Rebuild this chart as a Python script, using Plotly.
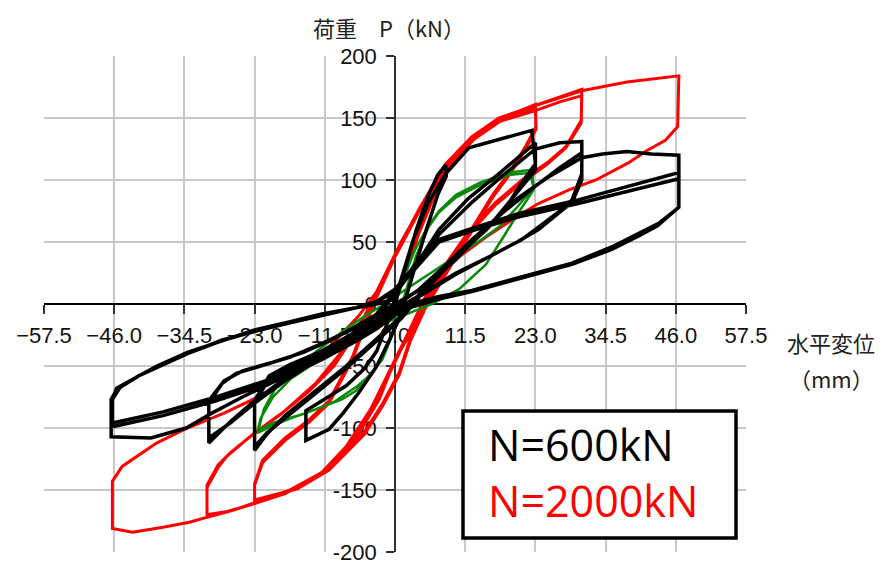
import plotly.graph_objects as go

# ---- N = 2000 kN : horizontal displacement (mm) / load (kN), cycle by cycle ----
red_c1_x = [0, 2, 4, 6.5, 9, 12.6, 17, 20, 23, 23.1, 21.5, 19, 16, 12, 8, 5, 2.5, 0.7, -2, -5, -10.8, -16, -23,
            -23, -21.7, -18, -14, -10.8, -7, -3.5, 0, 4, 8.3, 12.6, 17, 23]
red_c1_y = [0, 30, 58, 88, 110, 133, 148, 155, 161, 143, 128, 108, 88, 56, 25, 0, -28, -55, -80, -103, -132, -148, -160,
            -146, -128, -110, -95, -80, -45, 0, 38, 75, 112, 134, 149, 158]
red_c2_x = [23.1, 21.5, 19, 16, 12, 8, 5, 2.5, 0.7, -2, -5, -10.8, -16, -23,
            -23, -21.7, -18, -14, -10.8, -7, -3.5, 0, 4, 8.3, 12.6, 17, 23, 27, 30.6]
red_c2_y = [141, 126, 106, 86, 54, 22, -3, -30, -57, -82, -105, -134, -149, -158,
            -145, -126, -108, -93, -78, -43, 2, 40, 77, 113, 135, 150, 160, 167, 173]
red_c3_x = [30.5, 28, 25.2, 20.8, 16.5, 12, 8, 5, 2, -1, -4, -8, -12, -18, -23, -27, -30.8,
            -30.8, -29, -27.6, -24, -19, -14, -10, -6, -3, 0, 4, 8.3, 12.6, 17, 23, 27, 30.6]
red_c3_y = [148, 127, 115, 100, 82, 58, 30, 6, -25, -55, -85, -115, -136, -152, -160, -167, -172,
            -148, -132, -123, -108, -90, -70, -50, -20, 10, 40, 75, 110, 132, 147, 156, 163, 168]
red_c4_x = [30.5, 28, 25, 20.8, 16.5, 12, 8, 5, 2, -1, -4, -8, -12, -18, -23, -27, -30.8,
            -30.8, -29, -27, -23, -18, -13, -9, -5, -2, 1, 5, 9, 13, 18, 23, 30.6, 38, 46.5]
red_c4_y = [146, 126, 113, 98, 80, 56, 28, 4, -27, -57, -87, -116, -137, -153, -161, -167, -170,
            -146, -130, -120, -104, -86, -64, -40, -10, 20, 50, 85, 112, 133, 150, 160, 172, 179, 184]
red_c5_x = [46.3, 44.3, 41, 38.3, 32.9, 28.5, 23.5, 19.8, 14.9, 10.5, 7.7, 5, 2, 0, -2.6, -6, -10.8, -16, -23, -28,
            -33.7, -38, -43, -46.3, -46.3, -44.7, -42, -39, -34, -28, -22, -16, -11, -6, -3]
red_c5_y = [143, 132, 123, 114, 100, 92, 81, 70, 54, 38, 25, 0, -28, -45, -77, -105, -132, -148, -161, -168,
            -176, -180, -184, -181, -143, -131, -122, -112, -100, -88, -74, -56, -36, -10, 10]

# ---- N = 600 kN ----
blk_c1_x = [0, 1.5, 3.5, 5.5, 7, 8.3, 8.4, 7, 5, 3, 1, -1, -3.1, -6, -8.5, -10.8, -14.6,
            -14.6, -12, -8, -5, -3, -1, 1, 3, 5.5, 8.3, 12.1, 15, 18, 22.4]
blk_c1_y = [0, 25, 60, 88, 104, 112, 103, 88, 58, 25, -8, -30, -51, -72, -88, -101, -110,
            -86, -78, -66, -52, -38, -12, 20, 52, 82, 105, 126, 130, 134, 140]
blk_c2_x = [23, 20.8, 18.2, 15.4, 10.5, 7, 4, 1, -3, -8, -13, -18, -21, -23,
            -23, -20.6, -17.3, -12, -7, -3, 0, 3, 7.2, 12, 17, 22, 23]
blk_c2_y = [113, 98, 78, 62, 42, 25, 8, -10, -28, -50, -70, -90, -105, -118,
            -80, -60, -51, -40, -26, -10, 8, 28, 60, 85, 105, 126, 130]
blk_c3_x = [23, 21, 18, 15, 10.5, 7, 4, 1, -3, -8, -13, -18, -21, -23,
            -23, -20.6, -17.3, -12, -7, -3, 0, 3, 7.2, 12.6, 18, 23, 27, 30.6]
blk_c3_y = [108, 96, 78, 60, 40, 22, 6, -12, -30, -52, -72, -92, -104, -115,
            -78, -58, -49, -38, -24, -8, 10, 30, 56, 82, 105, 125, 130, 131]
blk_c4_x = [30.6, 29, 27.3, 23.5, 20.8, 15.4, 10, 5, 1, -3, -8, -13, -18, -23, -27, -30.5,
            -30.5, -28.3, -26, -22.7, -17.3, -12, -6, 0, 4, 8, 12.6, 18, 23, 27, 30.6]
blk_c4_y = [105, 84, 76, 62, 52, 38, 25, 10, -2, -14, -30, -45, -60, -78, -95, -112,
            -80, -64, -56, -51, -43, -32, -18, -2, 12, 30, 52, 75, 95, 110, 122]
blk_c5_x = [30.6, 29, 27, 23.5, 20, 15, 10, 5, 1, -3, -8, -13, -18, -23, -27, -30.5,
            -30.5, -28, -25, -20, -15, -10, -5, 0, 5, 10, 15, 20, 25, 30.6, 34, 38, 42, 46.5]
blk_c5_y = [100, 82, 74, 60, 50, 37, 24, 9, -3, -15, -31, -46, -62, -80, -96, -108,
            -78, -62, -54, -47, -39, -28, -14, 0, 14, 36, 62, 85, 102, 118, 121, 123, 121, 120]
blk_c6_x = [46.5, 43.2, 40, 35.5, 29, 23, 17, 12.6, 7.2, 3, 0, -5, -10, -15, -20, -25, -30, -34.2, -40, -46.5,
            -46.5, -45.6, -42, -39, -34, -28.3, -23, -17.3, -12, -6.4, -3, 0, 4, 7.2, 12.6, 20.3, 30, 38, 46.5]
blk_c6_y = [78, 65, 57, 46, 33, 25, 17, 11, 6, 1, -3, -18, -35, -50, -63, -75, -88, -100, -108, -107,
            -77, -69, -58, -51, -40, -29, -22, -15, -9, -3, 2, 12, 35, 52, 61, 73, 84, 95, 106]
blk_c7_x = [46.5, 43, 40, 35.5, 29, 23, 17, 12.6, 7.2, 3, 0, -3, -6.4, -12, -20, -29.3, -38, -46.3,
            -46.3, -45.6, -42, -39, -34, -28, -23, -17, -12, -6.4, -3, 0, 4, 7.2, 12.6, 20, 30, 38, 46.5]
blk_c7_y = [78, 64, 56, 45, 33, 24, 16, 10, 5, -1, -8, -18, -28, -42, -60, -75, -87, -96,
            -77, -68, -58, -50, -39, -29, -21, -14, -8, -3, 2, 10, 32, 50, 59, 70, 81, 91, 101]
blk_c8_x = [46.5, 43, 40, 35.5, 29, 23, 17, 12.6, 7.2, 3, 0, -3, -6.4, -12, -20, -29.3, -38, -46.3,
            -46.3, -45, -42, -39, -34, -28, -23, -17, -12, -6.4, -3, 0]
blk_c8_y = [78, 63, 55, 44, 32, 24, 16, 10, 4, -2, -9, -20, -30, -45, -63, -78, -90, -99,
            -77, -67, -58, -51, -40, -29, -22, -15, -9, -3, 0, 4]

# ---- reference loops (green) ----
grn_c1_x = [0, 1.5, 3.4, 5.5, 7.2, 10, 14, 18.7, 22, 22.7, 20, 17, 14.2, 10.5, 7.2, 3, 0, -2, -4.7, -8, -12, -16,
            -19.5, -21.5, -22.5, -20, -17, -14.6, -10, -6.4, -4, -2.1, 0, 1.5, 3.4, 5.5, 7.2, 10, 14, 18.7, 22.5]
grn_c1_y = [0, 22, 45, 63, 75, 88, 98, 106, 108, 94, 78, 62, 52, 40, 30, 16, 6, -1, -9, -20, -35, -50,
            -67, -85, -104, -98, -92, -88, -79, -67, -57, -43, -20, 5, 38, 62, 74, 86, 96, 104, 106]
grn_c2_x = [22.7, 20, 17.5, 14.9, 10.5, 6, 2, -2, -6, -12, -17, -20, -22, -22.5, -20, -14.6, -8.7, -6.4, -2.1, 0, 2]
grn_c2_y = [92, 72, 52, 32, 12, 0, -8, -16, -26, -44, -60, -75, -92, -102, -96, -88, -77, -70, -45, -20, 0]

# axis ticks
x_ticks = [-57.5, -46.0, -34.5, -23.0, -11.5, 0.0, 11.5, 23.0, 34.5, 46.0, 57.5]
y_ticks = [-200, -150, -100, -50, 0, 50, 100, 150, 200]

red_x = red_c1_x + red_c2_x + red_c3_x + red_c4_x + red_c5_x
red_y = red_c1_y + red_c2_y + red_c3_y + red_c4_y + red_c5_y
blk_x = blk_c1_x + blk_c2_x + blk_c3_x + blk_c4_x + blk_c5_x + blk_c6_x + blk_c7_x + blk_c8_x
blk_y = blk_c1_y + blk_c2_y + blk_c3_y + blk_c4_y + blk_c5_y + blk_c6_y + blk_c7_y + blk_c8_y
grn_x = grn_c1_x + grn_c2_x
grn_y = grn_c1_y + grn_c2_y

fig = go.Figure()
fig.add_trace(go.Scatter(x=red_x, y=red_y, mode="lines",
                         line=dict(color="#ff0000", width=3), name="N=2000kN"))
fig.add_trace(go.Scatter(x=grn_x, y=grn_y, mode="lines",
                         line=dict(color="#0a8a0a", width=2.5), name="ref"))
fig.add_trace(go.Scatter(x=blk_x, y=blk_y, mode="lines",
                         line=dict(color="#000000", width=3.5), name="N=600kN"))

tick_font = dict(family="Liberation Sans, Arial, sans-serif", size=22, color="#111111")
jp_font = dict(family="Noto Sans CJK JP, sans-serif", size=22, color="#222222")

fig.update_layout(
    width=883, height=565,
    margin=dict(l=44, r=137, t=56, b=13, autoexpand=False),
    paper_bgcolor="white", plot_bgcolor="white",
    showlegend=False,
    xaxis=dict(range=[-57.5, 57.5], tickvals=x_ticks, ticktext=[f"{v:.1f}".replace("-", "\u2212") for v in x_ticks],
               anchor="free", position=0.5, showline=True, linecolor="#000000", linewidth=1.5,
               ticks="outside", ticklen=9, tickwidth=1.5, tickcolor="#333333", ticklabelstandoff=3,
               showgrid=True, gridcolor="#c8c8c8", gridwidth=2, zeroline=False,
               tickfont=tick_font, layer="below traces", fixedrange=True, automargin=False),
    yaxis=dict(range=[-200, 200], tickvals=y_ticks, ticktext=[str(v) for v in y_ticks],
               anchor="free", position=0.5, showline=True, linecolor="#333333", linewidth=1.5,
               ticks="outside", ticklen=8, tickwidth=1.5, tickcolor="#333333", ticklabelstandoff=5,
               showgrid=True, gridcolor="#c8c8c8", gridwidth=2, zeroline=False,
               tickfont=tick_font, layer="below traces", fixedrange=True, automargin=False),
)

# axis titles
fig.add_annotation(text="荷重\u3000P（kN）", xref="paper", yref="paper", x=(389 - 44) / 702, y=(552 - 27) / 496,
                   showarrow=False, font=jp_font, xanchor="center", yanchor="middle")
fig.add_annotation(text="水平変位", xref="paper", yref="paper", x=(831 - 44) / 702, y=(552 - 342) / 496,
                   showarrow=False, font=jp_font, xanchor="center", yanchor="middle")
fig.add_annotation(text="（mm）", xref="paper", yref="paper", x=(831 - 44) / 702, y=(552 - 378) / 496,
                   showarrow=False, font=jp_font, xanchor="center", yanchor="middle")

# legend box with both axial-load labels
fig.add_shape(type="rect", xref="paper", yref="paper",
              x0=(463 - 44) / 702, x1=(736 - 44) / 702, y0=(552 - 538) / 496, y1=(552 - 411) / 496,
              line=dict(color="#000000", width=3.5), fillcolor="white", layer="above")
fig.add_annotation(text="N=600kN<br><span style='color:#ff0000'>N=2000kN</span>",
                   xref="paper", yref="paper", x=(486 - 44) / 702, y=(552 - 472) / 496,
                   showarrow=False, xanchor="left", yanchor="middle", align="left",
                   font=dict(family="Open Sans, Noto Sans, sans-serif", size=43, color="#000000"))

fig.write_html("out.html")
